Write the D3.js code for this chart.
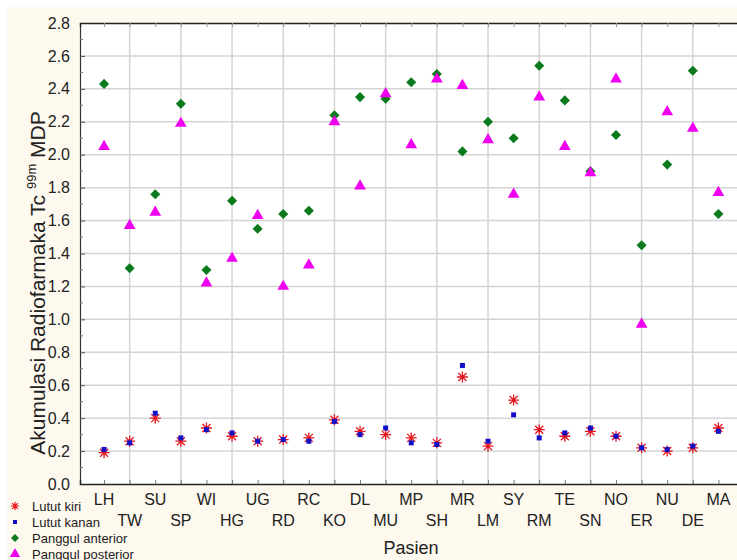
<!DOCTYPE html>
<html>
<head>
<meta charset="utf-8">
<script src="https://cdn.jsdelivr.net/npm/d3@7"></script>
<style>
body { margin: 0; background: #fff; }
svg { display: block; font-family: "Liberation Sans", Arial, sans-serif; }
</style>
</head>
<body>
<svg id="chart" width="737" height="560"></svg>
<script>
var pasien = ["LH","TW","SU","SP","WI","HG","UG","RD","RC","KO","DL","MU","MP","SH","MR","LM","SY","RM","TE","SN","NO","ER","NU","DE","MA"];

var lututKiri = [0.19,0.26,0.40,0.26,0.34,0.29,0.26,0.27,0.28,0.39,0.32,0.30,0.28,0.25,0.65,0.23,0.51,0.33,0.29,0.32,0.29,0.22,0.20,0.22,0.34];
var lututKanan = [0.21,0.25,0.43,0.28,0.33,0.31,0.26,0.27,0.26,0.38,0.30,0.34,0.25,0.24,0.72,0.26,0.42,0.28,0.31,0.34,0.29,0.22,0.21,0.23,0.32];
var panggulAnterior = [2.43,1.31,1.76,2.31,1.30,1.72,1.55,1.64,1.66,2.24,2.35,2.34,2.44,2.49,2.02,2.20,2.10,2.54,2.33,1.90,2.12,1.45,1.94,2.51,1.64];
var panggulPosterior = [2.05,1.57,1.65,2.19,1.22,1.37,1.63,1.20,1.33,2.20,1.81,2.37,2.06,2.46,2.42,2.09,1.76,2.35,2.05,1.89,2.46,0.97,2.26,2.16,1.77];

var yTicks = [0.0,0.2,0.4,0.6,0.8,1.0,1.2,1.4,1.6,1.8,2.0,2.2,2.4,2.6,2.8];
var legendNames = ["Lutut kiri","Lutut kanan","Panggul anterior","Panggul posterior"];

var svg = d3.select("#chart");

// background
svg.append("rect").attr("x", 7).attr("y", 7).attr("width", 730).attr("height", 553).attr("fill", "#fef9ee");

var x = d3.scaleLinear().domain([-0.94, 25]).range([80, 744]);
var y = d3.scaleLinear().domain([0, 2.8]).range([484, 23]);

svg.append("rect").attr("x", 80).attr("y", 23).attr("width", 664).attr("height", 461).attr("fill", "#fff");

// grid
svg.append("g").selectAll("line")
	.data(yTicks.slice(1, -1))
	.enter().append("line")
	.attr("x1", 80).attr("x2", 744)
	.attr("y1", function(d){ return y(d); })
	.attr("y2", function(d){ return y(d); })
	.attr("stroke", "#d4d4d4").attr("stroke-width", 1.5);

svg.append("g").selectAll("line")
	.data(pasien.filter(function(d, i){ return i % 2 == 1; }))
	.enter().append("line")
	.attr("x1", function(d){ return x(pasien.indexOf(d)); })
	.attr("x2", function(d){ return x(pasien.indexOf(d)); })
	.attr("y1", 23).attr("y2", 484)
	.attr("stroke", "#d4d4d4").attr("stroke-width", 1.5);

// axes
var yAxis = d3.axisLeft(y).tickValues(yTicks).tickFormat(d3.format(".1f")).tickSize(-5).tickPadding(10);
var gy = svg.append("g").attr("transform", "translate(80,0)").call(yAxis);
gy.selectAll("text").attr("font-size", 16).attr("fill", "#222").attr("font-family", "Liberation Sans, Arial, sans-serif");
gy.select(".domain").attr("stroke", "#333").attr("stroke-width", 1.2);
gy.selectAll(".tick line").attr("stroke", "#555");

var minor = d3.range(0.1, 2.8, 0.2);
svg.append("g").selectAll("line").data(minor).enter().append("line")
	.attr("x1", 80).attr("x2", 83)
	.attr("y1", function(d){ return y(d); }).attr("y2", function(d){ return y(d); })
	.attr("stroke", "#777");

var xAxis = d3.axisBottom(x).tickValues(d3.range(pasien.length)).tickSize(-4).tickFormat("");
var gx = svg.append("g").attr("transform", "translate(0,484)").call(xAxis);
gx.select(".domain").attr("stroke", "#222").attr("stroke-width", 1.4);
gx.selectAll(".tick line").attr("stroke", "#777");

var gxt = svg.append("g").attr("transform", "translate(0,23)").call(d3.axisTop(x).tickValues(d3.range(pasien.length)).tickSize(-4).tickFormat(""));
gxt.select(".domain").attr("stroke", "#222").attr("stroke-width", 1.4);
gxt.selectAll(".tick line").attr("stroke", "#999");

svg.append("g").selectAll("text")
	.data(pasien)
	.enter().append("text")
	.attr("x", function(d, i){ return x(i); })
	.attr("y", function(d, i){ return i % 2 == 0 ? 505 : 526; })
	.attr("text-anchor", "middle")
	.attr("font-size", 16)
	.attr("fill", "#222")
	.text(function(d){ return d; });

// titles
svg.append("text").attr("x", 411).attr("y", 554).attr("text-anchor", "middle")
	.attr("font-size", 18).attr("fill", "#222").text("Pasien");

var yt = svg.append("text").attr("transform", "translate(45,283) rotate(-90)")
	.attr("text-anchor", "middle").attr("font-size", 21).attr("fill", "#222");
yt.append("tspan").text("Akumulasi Radiofarmaka Tc ");
yt.append("tspan").attr("font-size", 13).attr("dy", -9).text("99m");
yt.append("tspan").attr("dy", 9).text(" MDP");

// markers
var starPath = "M-5.5,0L5.5,0M0,-5.5L0,5.5M-4,-4L4,4M-4,4L4,-4";
var diamond = d3.symbol().type(d3.symbolDiamond2).size(65)();
var triangle = d3.symbol().type(d3.symbolTriangle).size(60)();

svg.append("g").selectAll("path")
	.data(lututKiri).enter().append("path")
	.attr("d", starPath)
	.attr("transform", function(d, i){ return "translate(" + x(i) + "," + y(d) + ")"; })
	.attr("stroke", "#e8141c").attr("stroke-width", 1.3).attr("fill", "none");

svg.append("g").selectAll("rect")
	.data(lututKanan).enter().append("rect")
	.attr("x", function(d, i){ return x(i) - 2.5; })
	.attr("y", function(d){ return y(d) - 2.5; })
	.attr("width", 5).attr("height", 5)
	.attr("fill", "#1010c8");

svg.append("g").selectAll("path")
	.data(panggulAnterior).enter().append("path")
	.attr("d", diamond)
	.attr("transform", function(d, i){ return "translate(" + x(i) + "," + y(d) + ")"; })
	.attr("fill", "#0b7a1c");

svg.append("g").selectAll("path")
	.data(panggulPosterior).enter().append("path")
	.attr("d", triangle)
	.attr("transform", function(d, i){ return "translate(" + x(i) + "," + y(d) + ")"; })
	.attr("fill", "#f000f0");

// legend
var lg = svg.append("g");
legendNames.forEach(function(name, i){
	var ly = 506 + i * 16;
	var sx = 15;
	if (i == 0) {
		lg.append("path").attr("d", "M-4,0L4,0M0,-4L0,4M-2.8,-2.8L2.8,2.8M-2.8,2.8L2.8,-2.8")
			.attr("transform", "translate(" + sx + "," + ly + ")")
			.attr("stroke", "#e8141c").attr("stroke-width", 1.2);
	} else if (i == 1) {
		lg.append("rect").attr("x", sx - 2).attr("y", ly - 2).attr("width", 4).attr("height", 4).attr("fill", "#1010c8");
	} else if (i == 2) {
		lg.append("path").attr("d", d3.symbol().type(d3.symbolDiamond2).size(40)())
			.attr("transform", "translate(" + sx + "," + ly + ")").attr("fill", "#0b7a1c");
	} else {
		lg.append("path").attr("d", d3.symbol().type(d3.symbolTriangle).size(45)())
			.attr("transform", "translate(" + sx + "," + ly + ")").attr("fill", "#f000f0");
	}
	lg.append("text").attr("x", 32).attr("y", ly + 5)
		.attr("font-size", 13).attr("fill", "#222").text(name);
});
</script>
</body>
</html>
